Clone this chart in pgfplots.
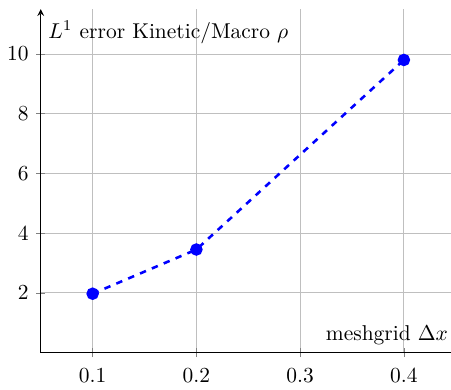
\documentclass[border=0pt]{standalone}
\usepackage{pgfplots}
\pgfplotsset{compat=1.18}
\begin{document}
\begin{tikzpicture}
\begin{axis}[
  scale only axis,
  width=191pt, height=160pt,
  axis lines=left,
  x axis line style={-},
  tick align=center,
  xmin=0.05, xmax=0.445,
  ymin=0, ymax=11.5,
  xtick={0.1,0.2,0.3,0.4},
  ytick={2,4,6,8,10},
  xticklabel style={/pgf/number format/fixed, yshift=-2pt},
  grid=major,
  xlabel={meshgrid $\Delta x$},
  ylabel={$L^1$ error Kinetic/Macro $\rho$},
  xlabel style={at={(axis description cs:1,0)}, anchor=south east, inner xsep=1pt},
  ylabel style={at={(axis description cs:0,1)}, anchor=north west, rotate=-90, yshift=-2pt},
]
\addplot[blue, very thick, dashed, mark=*, mark size=2.3pt, mark options={solid}] coordinates {
  (0.1,1.97) (0.2,3.45) (0.4,9.8)
};
\end{axis}
\path ([yshift=4.3pt]current axis.north west);
\end{tikzpicture}
\end{document}
